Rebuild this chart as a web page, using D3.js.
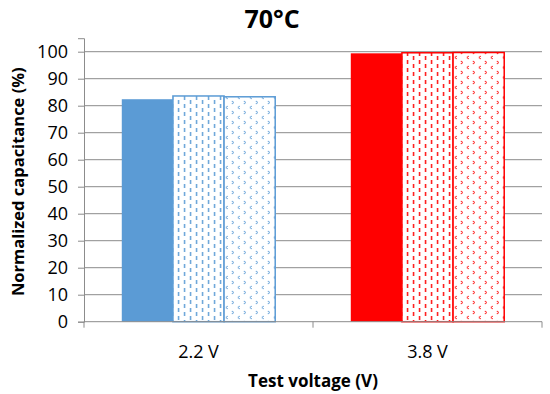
<!DOCTYPE html>
<html>
<head>
<meta charset="utf-8">
<script src="https://cdn.jsdelivr.net/npm/d3@7"></script>
<style>
  body { margin: 0; background: #fff; }
  text { font-family: "Open Sans", "Noto Sans", sans-serif; fill: #000; }
</style>
</head>
<body>
<script>
var width = 550
var height = 394

// data
var voltages = ["2.2 V", "3.8 V"]
var series = ["s1", "s2", "s3"]
var valuesLow = [82.4, 83.6, 83.3]
var valuesHigh = [99.4, 99.6, 99.7]
var yTicks = [0, 10, 20, 30, 40, 50, 60, 70, 80, 90, 100]
var groupColors = ["#5B9BD5", "#FF0000"]

var margin = { top: 38.2, left: 84, right: 8, bottom: 72.3 }

var svg = d3.select("body").append("svg")
  .attr("width", width)
  .attr("height", height)

var defs = svg.append("defs")

// two fill patterns per colour: vertical dashes and small chevrons
groupColors.forEach(function (c, i) {
  var dash = defs.append("pattern")
    .attr("id", "dash" + i)
    .attr("patternUnits", "userSpaceOnUse")
    .attr("width", 12).attr("height", 8)
  dash.append("rect").attr("width", 12).attr("height", 8).attr("fill", "#fff")
  dash.append("rect").attr("x", 2).attr("y", 0).attr("width", 1.4).attr("height", 4).attr("fill", c)
  dash.append("rect").attr("x", 8).attr("y", 4).attr("width", 1.4).attr("height", 4).attr("fill", c)

  var chev = defs.append("pattern")
    .attr("id", "chev" + i)
    .attr("patternUnits", "userSpaceOnUse")
    .attr("width", 12).attr("height", 10)
  chev.append("rect").attr("width", 12).attr("height", 10).attr("fill", "#fff")
  chev.append("path").attr("d", "M2,1 L4,2.5 L2,4").attr("fill", "none").attr("stroke", c).attr("stroke-width", 1)
  chev.append("path").attr("d", "M10,6 L8,7.5 L10,9").attr("fill", "none").attr("stroke", c).attr("stroke-width", 1)
})

var x0 = d3.scaleBand()
  .domain(voltages)
  .range([margin.left, width - margin.right])
  .paddingInner(0.33)
  .paddingOuter(0.165)

var x1 = d3.scaleBand()
  .domain(series)
  .range([0, x0.bandwidth()])

var y = d3.scaleLinear()
  .domain([0, 105])
  .range([height - margin.bottom, margin.top])

// gridlines
svg.append("g")
  .selectAll("line")
  .data(yTicks.slice(1))
  .enter().append("line")
  .attr("x1", margin.left)
  .attr("x2", width - margin.right)
  .attr("y1", function (d) { return y(d) })
  .attr("y2", function (d) { return y(d) })
  .attr("stroke", "#8c8c8c")
  .attr("stroke-width", 1)

// y axis
var yAxis = svg.append("g")
  .attr("transform", "translate(" + margin.left + ",0)")
  .call(d3.axisLeft(y).tickValues(yTicks).tickSize(6).tickPadding(10))
yAxis.select(".domain").attr("stroke", "#8c8c8c")
yAxis.selectAll(".tick line").attr("stroke", "#8c8c8c")
yAxis.selectAll(".tick text")
  .attr("font-size", 18)
  .attr("font-family", "Open Sans")
  .attr("fill", "#000")

// bars
var data = [valuesLow, valuesHigh]
var fills = [
  function (i) { return groupColors[i] },
  function (i) { return "url(#dash" + i + ")" },
  function (i) { return "url(#chev" + i + ")" }
]

var groups = svg.append("g")
  .selectAll("g")
  .data(voltages)
  .enter().append("g")
  .attr("transform", function (d) { return "translate(" + x0(d) + ",0)" })

groups.each(function (v, gi) {
  d3.select(this).selectAll("rect")
    .data(series)
    .enter().append("rect")
    .attr("x", function (s) { return x1(s) })
    .attr("width", x1.bandwidth())
    .attr("y", function (s, si) { return y(data[gi][si]) })
    .attr("height", function (s, si) { return y(0) - y(data[gi][si]) })
    .attr("fill", function (s, si) { return fills[si](gi) })
    .attr("stroke", function (s, si) { return si === 0 ? "none" : groupColors[gi] })
    .attr("stroke-width", 1.5)
})

// x axis
var xAxis = svg.append("g")
  .attr("transform", "translate(0," + y(0) + ")")
xAxis.append("line")
  .attr("x1", margin.left).attr("x2", width - margin.right)
  .attr("stroke", "#8c8c8c")
var xTickPos = [margin.left, x0.range()[0] + x0.step(), width - margin.right]
xAxis.selectAll("line.tk")
  .data(xTickPos)
  .enter().append("line")
  .attr("class", "tk")
  .attr("x1", function (d) { return d }).attr("x2", function (d) { return d })
  .attr("y1", 0).attr("y2", 6)
  .attr("stroke", "#8c8c8c")
xAxis.selectAll("text")
  .data(voltages)
  .enter().append("text")
  .attr("x", function (d) { return x0(d) + x0.bandwidth() / 2 })
  .attr("y", 36)
  .attr("text-anchor", "middle")
  .attr("font-size", 18)
  .text(function (d) { return d })

// titles
svg.append("text")
  .attr("x", 272).attr("y", 28)
  .attr("text-anchor", "middle")
  .attr("font-size", 25)
  .attr("font-weight", "bold")
  .text("70°C")

svg.append("text")
  .attr("transform", "translate(24," + ((y(0) + y(100)) / 2 - 5) + ") rotate(-90)")
  .attr("text-anchor", "middle")
  .attr("font-size", 16.5)
  .attr("font-weight", "bold")
  .text("Normalized capacitance (%)")

svg.append("text")
  .attr("x", 313).attr("y", 387)
  .attr("text-anchor", "middle")
  .attr("font-size", 17)
  .attr("font-weight", "bold")
  .text("Test voltage (V)")
</script>
</body>
</html>
